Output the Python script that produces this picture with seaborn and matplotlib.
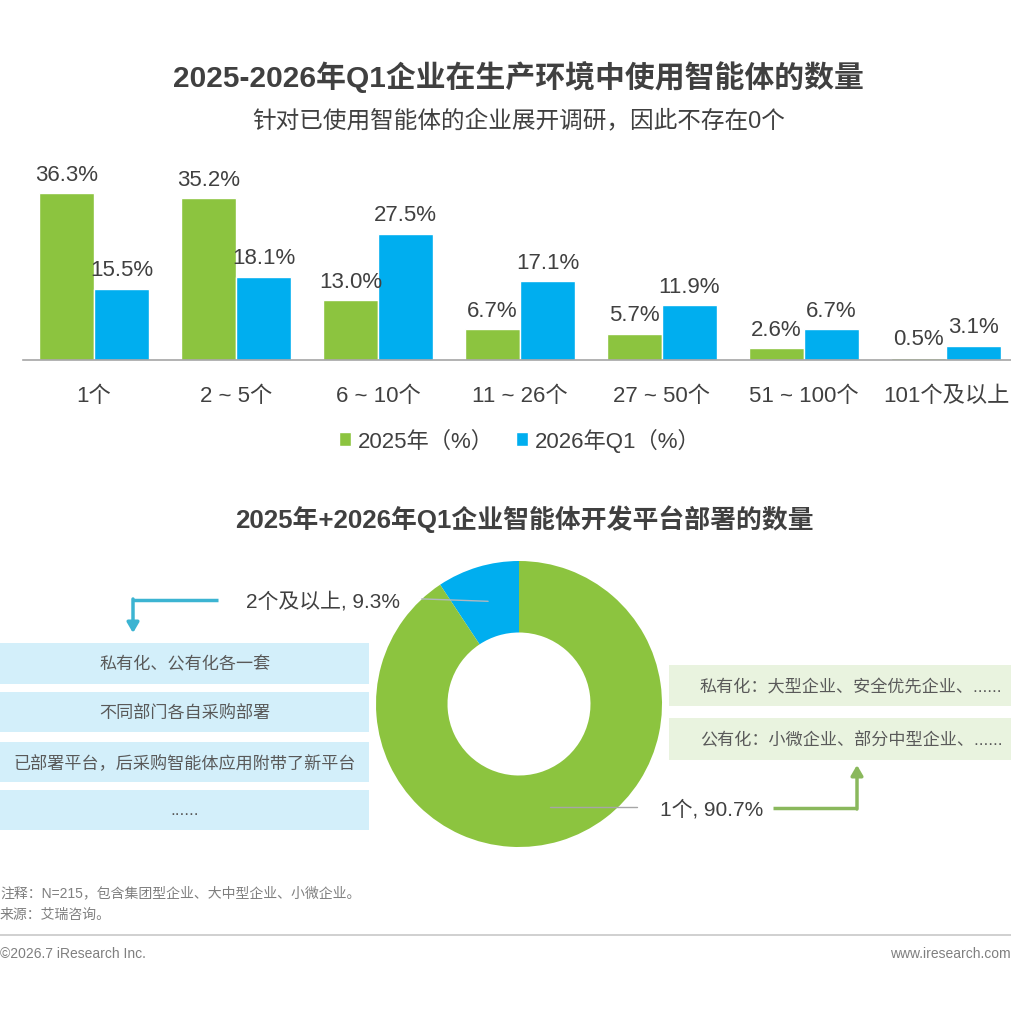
import numpy as np
import pandas as pd
import matplotlib
matplotlib.use("Agg")
import matplotlib.pyplot as plt
from matplotlib.patches import Rectangle
import seaborn as sns

# ---------------- data ----------------
categories = ["1个", "2 ~ 5个", "6 ~ 10个", "11 ~ 26个", "27 ~ 50个", "51 ~ 100个", "101个及以上"]
series_names = ["2025年（%）", "2026年Q1（%）"]
values_2025 = [36.3, 35.2, 13.0, 6.7, 5.7, 2.6, 0.5]
values_2026q1 = [15.5, 18.1, 27.5, 17.1, 11.9, 6.7, 3.1]

pie_labels = ["2个及以上", "1个"]
pie_values = [9.3, 90.7]

left_notes = ["私有化、公有化各一套", "不同部门各自采购部署",
              "已部署平台，后采购智能体应用附带了新平台", "......"]
right_notes = ["私有化：大型企业、安全优先企业、......",
               "公有化：小微企业、部分中型企业、......"]

title1 = "2025-2026年Q1企业在生产环境中使用智能体的数量"
subtitle1 = "针对已使用智能体的企业展开调研，因此不存在0个"
title2 = "2025年+2026年Q1企业智能体开发平台部署的数量"
note_text = "注释：N=215，包含集团型企业、大中型企业、小微企业。"
source_text = "来源：艾瑞咨询。"
copyright_text = "©2026.7 iResearch Inc."
site_text = "www.iresearch.com"

# ---------------- style ----------------
sns.set_style("white")
plt.rcParams["font.family"] = ["Liberation Sans", "Noto Sans CJK SC", "DejaVu Sans"]

GREEN = "#8CC43F"
BLUE = "#00AEEF"
DARK = "#404040"
GRAY = "#595959"
LIGHT_BLUE_BOX = "#D3EFFA"
LIGHT_GREEN_BOX = "#E9F3DF"
CYAN_ARROW = "#3CB4D2"
GREEN_ARROW = "#8AB85C"

W, H = 1011, 1012
fig = plt.figure(figsize=(W / 100, H / 100), dpi=100)
fig.patch.set_facecolor("white")

# overlay axes in pixel coordinates for decorations
ov = fig.add_axes([0, 0, 1, 1], zorder=0)
ov.set_xlim(0, W)
ov.set_ylim(H, 0)
ov.axis("off")

# ---------------- titles ----------------
ov.text(518, 77, title1, ha="center", va="center", fontsize=21.5,
        fontweight="bold", color=DARK)
ov.text(519, 121, subtitle1, ha="center", va="center", fontsize=17, color=DARK)
ov.text(524, 519, title2, ha="center", va="center", fontsize=18.6,
        fontweight="bold", color=DARK)

# ---------------- bar chart ----------------
df = pd.DataFrame({
    "category": categories * 2,
    "series": [series_names[0]] * len(categories) + [series_names[1]] * len(categories),
    "value": values_2025 + values_2026q1,
})

ax = fig.add_axes([23 / W, 1 - 361 / H, (W - 23) / W, (361 - 150) / H], zorder=2)
ax.patch.set_alpha(0)
sns.barplot(data=df, x="category", y="value", hue="series",
            palette=[GREEN, BLUE], width=0.775, saturation=1,
            order=categories, hue_order=series_names, ax=ax)
handles, labels = ax.get_legend_handles_labels()
if ax.get_legend() is not None:
    ax.get_legend().remove()

ax.set_xlim(-0.5, 6.458)
ax.set_ylim(0, 45.9)
for s in ["top", "right", "left"]:
    ax.spines[s].set_visible(False)
ax.spines["bottom"].set_color("#A6A6A6")
ax.spines["bottom"].set_linewidth(1.2)
ax.set_yticks([])
ax.set_xlabel("")
ax.set_ylabel("")
ax.tick_params(axis="x", length=0, pad=18, labelsize=16, labelcolor=DARK)
for c in ax.containers:
    ax.bar_label(c, fmt="%.1f%%", padding=6, fontsize=16, color=DARK)

fig.legend(handles, labels, loc="center", bbox_to_anchor=(520 / W, 1 - 441 / H),
           ncol=2, frameon=False, fontsize=16, handlelength=0.55,
           handleheight=0.55, handletextpad=0.3, columnspacing=1.0,
           labelcolor=DARK)

# ---------------- donut ----------------
cx, cy, R = 519, 705, 143
ax2 = fig.add_axes([(cx - R) / W, 1 - (cy + R) / H, 2 * R / W, 2 * R / H], zorder=2)
wedges, _ = ax2.pie(pie_values, colors=[BLUE, GREEN], startangle=90,
                    counterclock=True, radius=1,
                    wedgeprops=dict(width=0.5, linewidth=0))
ax2.set_xlim(-1, 1)
ax2.set_ylim(-1, 1)
ax2.set_aspect("equal")

# leader lines from wedge middles
mids = [np.deg2rad((w.theta1 + w.theta2) / 2) for w in wedges]
# blue (2个及以上)
sx, sy = 0.75 * np.cos(mids[0]), 0.75 * np.sin(mids[0])
ax2.plot([sx, -0.68], [sy, 0.735], color="#B0B8C0", lw=1, clip_on=False)
# green (1个)
sx, sy = 0.75 * np.cos(mids[1]), 0.75 * np.sin(mids[1])
ax2.plot([sx, 0.825], [sy, sy], color="#A6A6A6", lw=1, clip_on=False)

ov.text(400, 602, f"{pie_labels[0]}, {pie_values[0]}%", ha="right", va="center",
        fontsize=15, color=DARK)
ov.text(660, 810, f"{pie_labels[1]}, {pie_values[1]}%", ha="left", va="center",
        fontsize=15, color=DARK)

# cyan arrow (left)
ov.plot([218, 133], [601, 601], color=CYAN_ARROW, lw=2.5, solid_capstyle="butt")
ov.annotate("", xy=(133, 634), xytext=(133, 600),
            arrowprops=dict(arrowstyle="-|>,head_length=0.6,head_width=0.35",
                            color=CYAN_ARROW, lw=2.5, shrinkA=0, shrinkB=0))
# green arrow (right)
ov.plot([773, 857], [809, 809], color=GREEN_ARROW, lw=2.5, solid_capstyle="butt")
ov.annotate("", xy=(857, 766), xytext=(857, 810),
            arrowprops=dict(arrowstyle="-|>,head_length=0.6,head_width=0.35",
                            color=GREEN_ARROW, lw=2.5, shrinkA=0, shrinkB=0))

# left boxes
left_boxes = [(644, 685), (693, 733), (743, 783), (791, 831)]
for (y0, y1), txt in zip(left_boxes, left_notes):
    ov.add_patch(Rectangle((0, y0), 369, y1 - y0, facecolor=LIGHT_BLUE_BOX,
                           edgecolor="none"))
    ov.text(185, (y0 + y1) / 2, txt, ha="center", va="center", fontsize=12.3,
            color=GRAY)

# right boxes
right_boxes = [(666, 707), (719, 761)]
for (y0, y1), txt in zip(right_boxes, right_notes):
    ov.add_patch(Rectangle((669, y0), W - 669, y1 - y0, facecolor=LIGHT_GREEN_BOX,
                           edgecolor="none"))
    ov.text(700, (y0 + y1) / 2, txt, ha="left", va="center", fontsize=12.3,
            color=GRAY)

# ---------------- footer ----------------
ov.text(0, 893, note_text, ha="left", va="center", fontsize=10, color="#7F7F7F")
ov.text(0, 915, source_text, ha="left", va="center", fontsize=10, color="#7F7F7F")
ov.plot([0, W], [936, 936], color="#C8C8C8", lw=1.2)
ov.text(0, 954, copyright_text, ha="left", va="center", fontsize=10, color="#7F7F7F")
ov.text(W, 954, site_text, ha="right", va="center", fontsize=10, color="#7F7F7F")

fig.savefig("out.png", dpi=100, facecolor="white")
